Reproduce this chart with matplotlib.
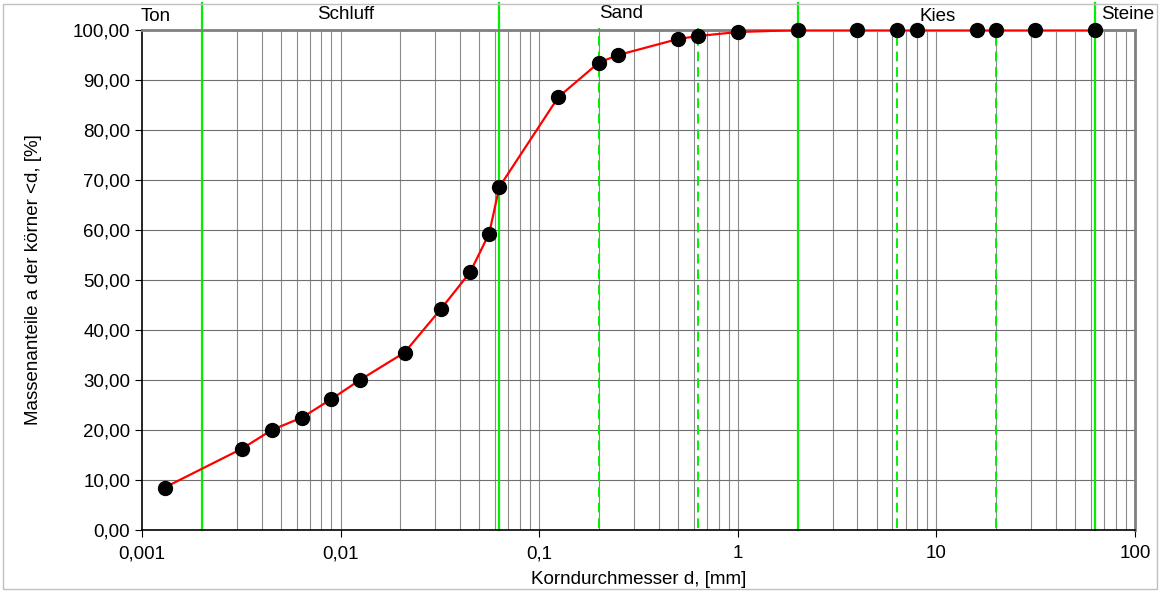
import matplotlib
matplotlib.use('Agg')
import matplotlib.pyplot as plt
from matplotlib.ticker import FixedLocator, FuncFormatter, NullFormatter
from matplotlib.patches import Rectangle

plt.rcParams['font.family'] = ['Liberation Sans', 'DejaVu Sans']

# sieve / sedimentation diameters [mm] and passing percentages
korn_d = [0.0013, 0.0032, 0.0045, 0.0064, 0.009, 0.0125, 0.021, 0.032, 0.045,
          0.056, 0.063, 0.125, 0.2, 0.25, 0.5, 0.63, 1, 2, 4, 6.3, 8, 16, 20,
          31.5, 63]
anteil = [8.5, 16.3, 20.0, 22.5, 26.2, 30.0, 35.5, 44.2, 51.6,
          59.3, 68.6, 86.6, 93.5, 95.0, 98.2, 98.8, 99.6, 100, 100, 100, 100,
          100, 100, 100, 100]

# soil class boundaries
grenzen_solid = [0.002, 0.063, 2, 63]
grenzen_dashed = [0.2, 0.63, 6.3, 20]
klassen = ['Ton', 'Schluff', 'Sand', 'Kies', 'Steine']
klassen_x = [0.00099, 0.0106, 0.26, 10.1, 92]
klassen_y = [102.8, 103.2, 103.3, 102.8, 103.2]

xticks = [0.001, 0.01, 0.1, 1, 10, 100]
xtick_labels = ['0,001', '0,01', '0,1', '1', '10', '100']

fs = 13.5

fig = plt.figure(figsize=(11.6, 5.91), dpi=100)
ax = fig.add_axes([0.1224, 0.1032, 0.856, 0.846])

# grid
minor = [m * 10.0 ** e for e in range(-3, 2) for m in range(2, 10)]
for xv in minor + xticks[1:-1]:
    ax.axvline(xv, color='#8c8c8c', lw=0.8, zorder=1)
for yv in range(10, 100, 10):
    ax.axhline(yv, color='#707070', lw=0.8, zorder=1)

# class boundaries
for xv in grenzen_solid:
    ax.plot([xv, xv], [0, 105.5], color='#00f000', lw=1.6, zorder=2, clip_on=False)
for xv in grenzen_dashed:
    ax.plot([xv, xv], [0.5, 100.5], color='#00f000', lw=1.4, ls=(0, (5, 3)),
            zorder=2, clip_on=False)

ax.plot(korn_d, anteil, color='#ff0000', lw=1.6, zorder=3)
ax.plot(korn_d, anteil, 'o', color='black', ms=10, zorder=4, clip_on=False)

ax.set_xscale('log')
ax.set_xlim(0.001, 100)
ax.set_ylim(0, 100)
ax.xaxis.set_major_locator(FixedLocator(xticks))
ax.xaxis.set_major_formatter(FuncFormatter(lambda v, p: xtick_labels[xticks.index(v)] if v in xticks else ''))
ax.xaxis.set_minor_formatter(NullFormatter())
ax.tick_params(axis='x', which='minor', length=0)
ax.set_yticks(range(0, 101, 10))
ax.yaxis.set_major_formatter(FuncFormatter(lambda v, p: ('%.2f' % v).replace('.', ',')))
ax.tick_params(axis='both', which='major', labelsize=fs, length=5, width=0.8)
ax.tick_params(axis='x', pad=6)

for s in ['left', 'bottom']:
    ax.spines[s].set_color('black')
    ax.spines[s].set_linewidth(1.2)
for s in ['top', 'right']:
    ax.spines[s].set_color('#808080')
    ax.spines[s].set_linewidth(2)

ax.set_xlabel('Korndurchmesser d, [mm]', fontsize=fs, labelpad=6)
ax.set_ylabel('Massenanteile a der körner <d, [%]', fontsize=fs, labelpad=22)

for name, xv, yv in zip(klassen, klassen_x, klassen_y):
    ha = 'left' if name == 'Ton' else 'center'
    ax.text(xv, yv, name, ha=ha, va='center', fontsize=fs, clip_on=False)

fig.patches.append(Rectangle((0.003, 0.003), 0.994, 0.99, transform=fig.transFigure,
                             fill=False, edgecolor='#c0c0c0', lw=1))

fig.savefig('out.png', dpi=100)
